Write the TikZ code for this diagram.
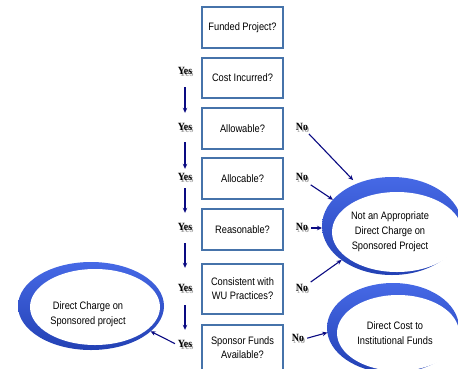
\documentclass[tikz,border=0pt]{standalone}
\usepackage{fontspec}
\setmainfont{Liberation Sans}
\newfontfamily\boxfont[FakeStretch=0.86]{Liberation Sans}
\newfontfamily\yesfont[FakeStretch=0.9]{Liberation Serif}
\usetikzlibrary{shapes.geometric,arrows.meta,calc}
\definecolor{boxblue}{RGB}{70,115,170}
\definecolor{navy}{RGB}{10,10,130}
\definecolor{ringA}{RGB}{70,105,230}
\definecolor{ringB}{RGB}{35,65,180}
\newcommand\shadowtxt[1]{\rlap{\kern1.3pt\raisebox{-1.3pt}{\textcolor{black!35}{#1}}}#1}
\begin{document}
\begin{tikzpicture}[x=1pt,y=-1pt,
 qbox/.style={draw=boxblue,line width=1.3pt,fill=white,minimum width=81pt,align=center,
   font=\boxfont\fontsize{10.8}{14}\selectfont,inner sep=0pt},
 lbl/.style={font=\yesfont\bfseries\fontsize{11}{12}\selectfont,inner sep=0pt,minimum height=10pt},
 arr/.style={draw=navy,line width=1.1pt,-{Stealth[length=5pt,width=4.5pt]}},
 ring/.style={ellipse,inner sep=0pt,outer sep=0pt},
 ringtxt/.style={align=center,font=\boxfont\fontsize{10.8}{15}\selectfont}]
\useasboundingbox[fill=white] (0,0) rectangle (458,368);

% question boxes
\node[qbox,minimum height=41pt] (b1) at (242.5,27.5) {Funded Project?};
\node[qbox,minimum height=40pt] (b2) at (242.5,78) {Cost Incurred?};
\node[qbox,minimum height=41pt] (b3) at (242.5,128.5) {Allowable?};
\node[qbox,minimum height=41pt] (b4) at (242.5,178.5) {Allocable?};
\node[qbox,minimum height=41pt] (b5) at (242.5,229.5) {Reasonable?};
\node[qbox,minimum height=50pt] (b6) at (242.5,289) {Consistent with\\WU Practices?};
\node[qbox,minimum height=46pt] (b7) at (242.5,348) {Sponsor Funds\\Available?};

% rings
\shade[top color=ringA,bottom color=ringB] (392,226) ellipse [x radius=70,y radius=49];
\fill[white] (397,232) ellipse [x radius=65,y radius=40];
\node[ring,minimum width=140pt,minimum height=98pt] (na) at (392,226) {};
\node[ringtxt] (natxt) at (390,232) {Not an Appropriate\\Direct Charge on\\Sponsored Project};

\shade[top color=ringA,bottom color=ringB] (393,328) ellipse [x radius=66,y radius=45];
\fill[white] (398,333) ellipse [x radius=61,y radius=38];
\node[ring,minimum width=132pt,minimum height=90pt] (dc) at (393,328) {};
\node[ringtxt] (dctxt) at (395,333) {Direct Cost to\\Institutional Funds};

\shade[top color=ringA,bottom color=ringB] (91,306) ellipse [x radius=73,y radius=44];
\fill[white] (95,307) ellipse [x radius=65,y radius=38];
\node[ring,minimum width=146pt,minimum height=88pt] (dcs) at (91,306) {};
\node[ringtxt] (dcstxt) at (88,314) {Direct Charge on\\Sponsored project};

% Yes labels
\node[lbl] (y1) at (185,72) {\shadowtxt{Yes}};
\node[lbl] (y2) at (185,128) {\shadowtxt{Yes}};
\node[lbl] (y3) at (185,178) {\shadowtxt{Yes}};
\node[lbl] (y4) at (185,228) {\shadowtxt{Yes}};
\node[lbl] (y5) at (185,289) {\shadowtxt{Yes}};
\node[lbl] (y6) at (185,345) {\shadowtxt{Yes}};

% No labels
\node[lbl] (n1) at (302,128) {\shadowtxt{No}};
\node[lbl] (n2) at (302,178) {\shadowtxt{No}};
\node[lbl] (n3) at (302,228) {\shadowtxt{No}};
\node[lbl] (n4) at (302,289) {\shadowtxt{No}};
\node[lbl] (n5) at (298,339) {\shadowtxt{No}};

% Yes arrows
\draw[arr,shorten <=10pt,shorten >=10pt] (y1.south) -- (y2.north);
\draw[arr,shorten <=9pt,shorten >=4pt] (y2.south) -- (y3.north);
\draw[arr,shorten <=5pt,shorten >=10pt] (y3.south) -- (y4.north);
\draw[arr,shorten <=10pt,shorten >=16pt] (y4.south) -- (y5.north);
\draw[arr,shorten <=11pt,shorten >=10pt] (y5.south) -- (y6.north);
\draw[arr,shorten <=3pt] (y6.west) -- (dcs.-23);

% No arrows
\draw[arr,shorten <=1pt,shorten >=5pt] (n1.south east) -- (na.130);
\draw[arr,shorten <=3pt] (n2.south east) -- (na.156);
\draw[arr,shorten <=3pt] (n3.east) -- (n3.east -| na.west);
\draw[arr,shorten <=3pt] (n4.north east) -- (na.214);
\draw[arr,shorten <=3pt] (n5.east) -- (dc.184);
\end{tikzpicture}
\end{document}
